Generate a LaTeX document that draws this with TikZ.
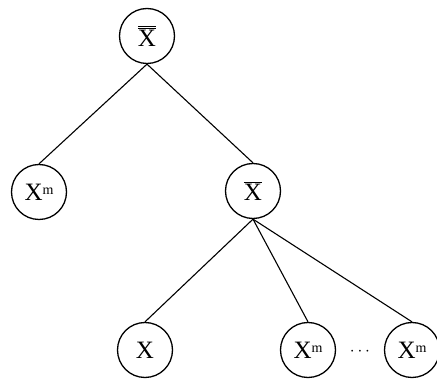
\documentclass[tikz,border=0pt]{standalone}
\usepackage{fontspec}
\setmainfont{Liberation Serif}
\tikzset{
  tn/.style={draw, circle, line width=1.3pt, minimum size=55pt, inner sep=0pt, font=\fontsize{25}{25}\selectfont},
  edge/.style={line width=1.1pt}
}
\newcommand{\Xm}{X\raisebox{0.5ex}{\fontsize{14}{14}\selectfont m}}
\begin{document}
\begin{tikzpicture}[x=1pt,y=-1pt]
\useasboundingbox (0,0) rectangle (437,379);
\node[tn] (root) at (147,36) {$\overline{\overline{\hbox{X}}}$};
\node[tn] (lm) at (39,192) {\Xm};
\node[tn] (xb) at (253,191) {$\overline{\hbox{X}}$};
\node[tn] (bx) at (145,350) {X};
\node[tn] (bm1) at (308,350) {\Xm};
\node[tn] (bm2) at (412,350) {\Xm};
\node (dots) at (360,352) {\fontsize{16}{16}\selectfont$\cdots$};
\draw[edge] (root.south) -- (lm.north);
\draw[edge] (root.south) -- (xb.north);
\draw[edge] (xb.south) -- (bx.north);
\draw[edge] (xb.south) -- (bm1.north);
\draw[edge] (xb.south) -- (bm2.north);
\end{tikzpicture}
\end{document}
